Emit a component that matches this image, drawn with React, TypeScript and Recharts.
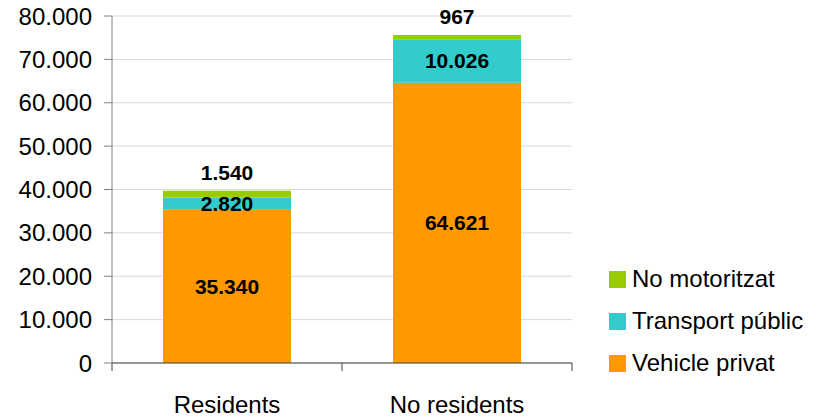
import { BarChart, Bar, XAxis, YAxis, CartesianGrid, LabelList } from "recharts";

const categories = ["Residents", "No residents"];
const vehiclePrivat = [35340, 64621];
const transportPublic = [2820, 10026];
const noMotoritzat = [1540, 967];
const yTicks = [0, 10000, 20000, 30000, 40000, 50000, 60000, 70000, 80000];

const data = categories.map((name, i) => ({
    name,
    vehiclePrivat: vehiclePrivat[i],
    transportPublic: transportPublic[i],
    noMotoritzat: noMotoritzat[i],
}));

// legend order, top to bottom
const series = [
    { key: "noMotoritzat", label: "No motoritzat", color: "#99CC00" },
    { key: "transportPublic", label: "Transport públic", color: "#33CCCC" },
    { key: "vehiclePrivat", label: "Vehicle privat", color: "#FF9900" },
];

const FONT = "'Liberation Sans', Arial, sans-serif";
const BAND = 230; // width of one category slot in the plot area
const labelStyle = { fontSize: 21, fontWeight: "bold", fill: "#000", fontFamily: FONT };

// thousands separated with a dot
const fmt = (v: number) => String(Math.round(v)).replace(/\B(?=(\d{3})+(?!\d))/g, ".");

function CategoryTick(props: any) {
    const { x, y, payload, index } = props;
    const left = payload.coordinate - BAND / 2;
    const right = payload.coordinate + BAND / 2;
    return (
        <g>
            <line x1={left} x2={left} y1={y} y2={y + 8} stroke="#404040" />
            {index === categories.length - 1 && (
                <line x1={right} x2={right} y1={y} y2={y + 8} stroke="#404040" />
            )}
            <text x={x} y={y + 50} textAnchor="middle" fontSize={24} fill="#000">
                {payload.value}
            </text>
        </g>
    );
}

function SideLegend() {
    return (
        <div style={{ position: "absolute", left: 609, top: 258, width: 209 }}>
            {series.map((s) => (
                <div key={s.key} style={{ display: "flex", alignItems: "center", height: 42 }}>
                    <span style={{ width: 17, height: 17, background: s.color, marginRight: 6 }} />
                    <span style={{ fontSize: 24, color: "#000", whiteSpace: "nowrap" }}>{s.label}</span>
                </div>
            ))}
        </div>
    );
}

export default function App() {
    return (
        <div
            style={{
                position: "absolute",
                left: 0,
                top: 0,
                width: 818,
                height: 418,
                fontFamily: FONT,
                background: "#fff",
            }}
        >
            <BarChart
                width={818}
                height={418}
                data={data}
                margin={{ top: 16, right: 246, bottom: 0, left: 0 }}
                barSize={128}
            >
                <CartesianGrid horizontal vertical={false} stroke="#d9d9d9" />
                <XAxis
                    dataKey="name"
                    height={55}
                    axisLine={{ stroke: "#404040" }}
                    tickLine={false}
                    tickSize={0}
                    tickMargin={0}
                    tick={<CategoryTick />}
                    interval={0}
                />
                <YAxis
                    width={112}
                    domain={[0, 80000]}
                    ticks={yTicks}
                    interval={0}
                    tickFormatter={fmt}
                    axisLine={{ stroke: "#808080" }}
                    tickLine={{ stroke: "#808080" }}
                    tickSize={8}
                    tickMargin={12}
                    tick={{ fontSize: 24, fill: "#000", fontFamily: FONT }}
                />
                <Bar dataKey="vehiclePrivat" stackId="a" fill="#FF9900" isAnimationActive={false}>
                    <LabelList dataKey="vehiclePrivat" position="center" formatter={fmt} style={labelStyle} />
                </Bar>
                <Bar dataKey="transportPublic" stackId="a" fill="#33CCCC" isAnimationActive={false}>
                    <LabelList dataKey="transportPublic" position="center" formatter={fmt} style={labelStyle} />
                </Bar>
                <Bar dataKey="noMotoritzat" stackId="a" fill="#99CC00" isAnimationActive={false}>
                    <LabelList
                        dataKey="noMotoritzat"
                        position="top"
                        offset={11}
                        formatter={fmt}
                        style={labelStyle}
                    />
                </Bar>
            </BarChart>
            <SideLegend />
        </div>
    );
}
